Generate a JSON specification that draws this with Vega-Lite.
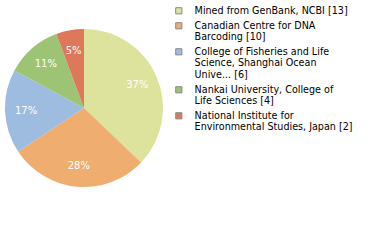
{
  "$schema": "https://vega.github.io/schema/vega-lite/v6.json",
  "width": 168,
  "height": 216,
  "autosize": "none",
  "padding": {"left": 0, "top": 0, "right": 212, "bottom": 24},
  "background": "white",
  "config": {"view": {"stroke": null}, "font": "DejaVu Sans"},
  "data": {
    "values": [
      {"org": "Mined from GenBank, NCBI [13]", "n": 13, "ord": 1, "pct": "37%"},
      {"org": "Canadian Centre for DNA|Barcoding [10]", "n": 10, "ord": 2, "pct": "28%"},
      {"org": "College of Fisheries and Life|Science, Shanghai Ocean|Unive... [6]", "n": 6, "ord": 3, "pct": "17%"},
      {"org": "Nankai University, College of|Life Sciences [4]", "n": 4, "ord": 4, "pct": "11%"},
      {"org": "National Institute for|Environmental Studies, Japan [2]", "n": 2, "ord": 5, "pct": "5%"}
    ]
  },
  "encoding": {
    "theta": {"field": "n", "type": "quantitative", "stack": true},
    "order": {"field": "ord", "type": "quantitative"}
  },
  "layer": [
    {
      "mark": {"type": "arc", "outerRadius": 79},
      "encoding": {
        "color": {
          "field": "org",
          "type": "nominal",
          "sort": {"field": "ord"},
          "scale": {
            "domain": [
              "Mined from GenBank, NCBI [13]",
              "Canadian Centre for DNA|Barcoding [10]",
              "College of Fisheries and Life|Science, Shanghai Ocean|Unive... [6]",
              "Nankai University, College of|Life Sciences [4]",
              "National Institute for|Environmental Studies, Japan [2]"
            ],
            "range": ["#dde29c", "#efad70", "#9ebbe0", "#9cc474", "#dd785b"]
          },
          "legend": {
            "title": null,
            "orient": "none",
            "legendX": 174,
            "legendY": 6,
            "symbolType": "square",
            "symbolSize": 38,
            "symbolStrokeColor": "#888888",
            "symbolStrokeWidth": 1,
            "symbolOpacity": 1,
            "labelFont": "DejaVu Sans",
            "labelFontSize": 9.6,
            "labelLineHeight": 12,
            "labelColor": "#000000",
            "labelLimit": 220,
            "labelOffset": 11,
            "rowPadding": 4,
            "labelExpr": "split(datum.label, '|')"
          }
        }
      }
    },
    {
      "mark": {"type": "text", "radius": 58, "color": "white", "fontSize": 10, "font": "DejaVu Sans"},
      "encoding": {"text": {"field": "pct", "type": "nominal"}}
    }
  ]
}
